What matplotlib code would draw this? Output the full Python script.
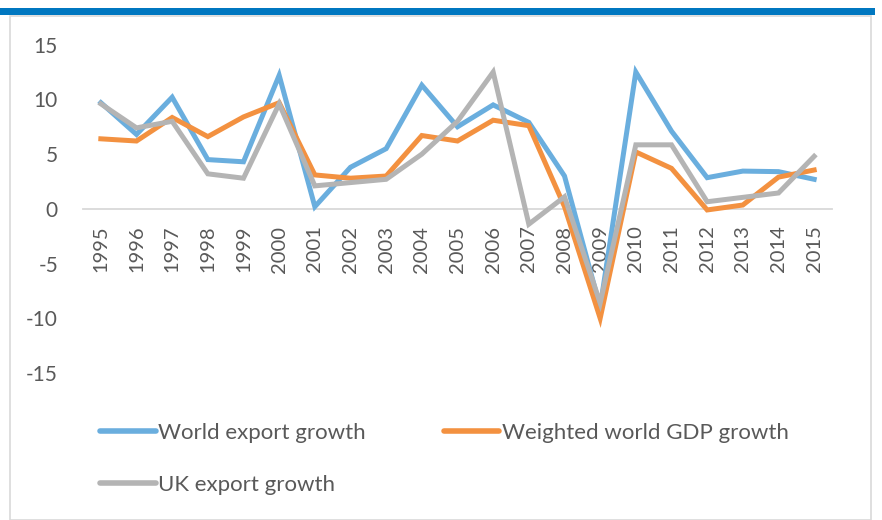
import matplotlib.pyplot as plt
from matplotlib.patches import Rectangle

# --- data ---
years = [str(y) for y in range(1995, 2016)]
world_export = [9.7, 6.8, 10.2, 4.5, 4.3, 12.2, 0.2, 3.8, 5.5, 11.3, 7.5,
                9.5, 7.9, 3.0, -9.0, 12.5, 7.1, 2.85, 3.45, 3.4, 2.7]
world_gdp = [6.4, 6.2, 8.35, 6.6, 8.4, 9.7, 3.1, 2.8, 3.0, 6.7, 6.2,
             8.1, 7.6, 0.2, -10.0, 5.2, 3.7, -0.1, 0.35, 2.9, 3.55]
uk_export = [9.6, 7.4, 8.0, 3.2, 2.8, 9.6, 2.1, 2.4, 2.7, 5.0, 8.0,
             12.5, -1.4, 1.1, -8.6, 5.85, 5.85, 0.65, 1.05, 1.45, 4.8]
y_ticks = [15, 10, 5, 0, -5, -10, -15]

series = [
    ("World export growth", world_export, "#6AAEDE"),
    ("Weighted world GDP growth", world_gdp, "#F39140"),
    ("UK export growth", uk_export, "#B4B4B4"),
]

fam = ["Lato", "DejaVu Sans"]
text_col = "#595959"

# --- figure ---
W, H = 882, 520
fig = plt.figure(figsize=(W / 100, H / 100), dpi=100)

# frame decorations
fig.patches.append(Rectangle((10 / W, 0), 861 / W, 1 - 16 / H, transform=fig.transFigure,
                             fill=False, edgecolor="#D9D9D9", linewidth=1.2))
fig.patches.append(Rectangle((0, 1 - 15 / H), 875 / W, 7 / H, transform=fig.transFigure,
                             facecolor="#0077C0", edgecolor="none"))

ax = fig.add_axes([83 / W, 1 - 373 / H, 749 / W, 328.3 / H])
x = list(range(len(years)))
lines = {}
for name, vals, col in series:
    lines[name], = ax.plot(x, vals, color=col, linewidth=3.6, label=name,
                           solid_joinstyle="miter")

for s in ["top", "right", "left"]:
    ax.spines[s].set_visible(False)
ax.spines["bottom"].set_position(("data", 0))
ax.spines["bottom"].set_color("#D9D9D9")
ax.spines["bottom"].set_linewidth(1.3)
ax.spines["bottom"].set_zorder(0)

ax.set_xlim(-0.5, len(years) - 0.5)
ax.set_ylim(-15, 15)
ax.set_yticks(y_ticks)
ax.set_yticklabels([str(t) for t in y_ticks], family=fam, fontsize=15, color=text_col)
ax.set_xticks(x)
ax.set_xticklabels(years, rotation=90, family=fam, fontsize=14.5, color=text_col)
ax.tick_params(axis="both", length=0)
ax.tick_params(axis="x", pad=12)
ax.tick_params(axis="y", pad=18)

# row order: World, Weighted / UK
order = ["World export growth", "UK export growth", "Weighted world GDP growth"]
leg = fig.legend([lines[n] for n in order], order, loc="upper left",
                 bbox_to_anchor=(100 / W, 1 - 423 / H), ncol=2,
                 frameon=False, prop={"family": fam, "size": 16},
                 handlelength=2.5, handletextpad=0.13, columnspacing=3.5,
                 labelspacing=1.45, borderpad=0, borderaxespad=0,
                 labelcolor=text_col)
for h in leg.legend_handles:
    h.set_linewidth(4)
    h.set_solid_capstyle("round")

fig.savefig("out.png", dpi=100)
